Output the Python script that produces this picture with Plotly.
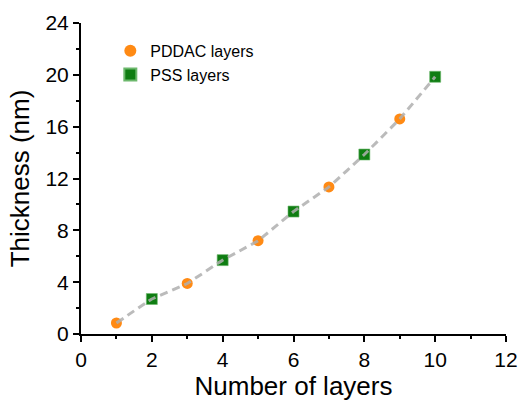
import plotly.graph_objects as go

layers_pddac = [1, 3, 5, 7, 9]
thick_pddac = [0.85, 3.9, 7.2, 11.35, 16.6]
layers_pss = [2, 4, 6, 8, 10]
thick_pss = [2.7, 5.7, 9.45, 13.85, 19.85]
layers_all = [1, 2, 3, 4, 5, 6, 7, 8, 9, 10]
thick_all = [0.85, 2.7, 3.9, 5.7, 7.2, 9.45, 11.35, 13.85, 16.6, 19.85]

fig = go.Figure()
fig.add_trace(go.Scatter(x=layers_pddac, y=thick_pddac, mode="markers", name="PDDAC layers",
                         marker=dict(symbol="circle", size=11, color="#FF8A14", line=dict(width=0))))
fig.add_trace(go.Scatter(x=layers_pss, y=thick_pss, mode="markers", name="PSS layers",
                         marker=dict(symbol="square", size=11, color="#0F7D12", line=dict(width=0.6, color="#6CB86C"))))
fig.add_trace(go.Scatter(x=layers_all, y=thick_all, mode="lines", showlegend=False,
                         line=dict(color="rgba(175,175,175,0.85)", width=3, dash="8px,5px", shape="spline", smoothing=0.2)))

font = "Liberation Sans, Arial, sans-serif"
axis_common = dict(showline=True, linecolor="black", linewidth=2, ticks="outside", ticklen=6, tickwidth=2,
                   tickcolor="black", showgrid=False, zeroline=False, mirror=False, automargin=False,
                   tickfont=dict(family=font, size=21, color="black"))
fig.update_xaxes(range=[0, 12], dtick=2, tick0=0, title=dict(text="Number of layers", font=dict(family=font, size=26, color="black"), standoff=17),
                 minor=dict(dtick=1, ticks="outside", ticklen=3, tickwidth=2, tickcolor="black"), **axis_common)
fig.update_yaxes(range=[0, 24], dtick=4, tick0=0, title=dict(text="Thickness (nm)", font=dict(family=font, size=26, color="black"), standoff=8),
                 minor=dict(dtick=2, ticks="outside", ticklen=3, tickwidth=2, tickcolor="black"), **axis_common)

fig.update_layout(
    width=519, height=401,
    margin=dict(l=81, r=13, t=23, b=67),
    paper_bgcolor="white", plot_bgcolor="white",
    legend=dict(x=0.069, y=0.965, xanchor="left", yanchor="top", bgcolor="rgba(0,0,0,0)",
                font=dict(family=font, size=16, color="black"), itemsizing="constant",
                tracegroupgap=0),
    showlegend=True,
)
fig.write_html("out.html", config={"displayModeBar": False},
               post_script="document.body.style.margin='0px';document.body.style.overflow='hidden';")
